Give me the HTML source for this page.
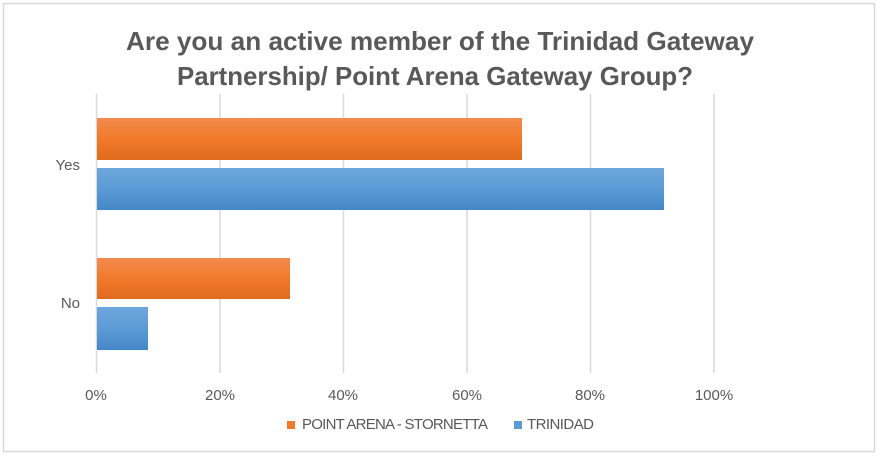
<!DOCTYPE html>
<html><head><style>
body{margin:0;background:#fff;}
svg text{font-family:"Liberation Sans",sans-serif;}
</style></head><body>
<svg width="879" height="457" xmlns="http://www.w3.org/2000/svg">
<defs>
<linearGradient id="o" x1="0" y1="0" x2="0" y2="1"><stop offset="0" stop-color="#f38b4e"/><stop offset="0.5" stop-color="#f17a2a"/><stop offset="1" stop-color="#e06a1e"/></linearGradient>
<linearGradient id="b" x1="0" y1="0" x2="0" y2="1"><stop offset="0" stop-color="#6ea7dc"/><stop offset="0.5" stop-color="#5b9bd5"/><stop offset="1" stop-color="#4487c8"/></linearGradient>
</defs>
<rect x="3.5" y="3.5" width="871" height="448" fill="#fff" stroke="#d9d9d9" stroke-width="1.5"/>
<text x="126" y="50" font-size="26" font-weight="bold" fill="#595959" textLength="628" lengthAdjust="spacingAndGlyphs">Are you an active member of the Trinidad Gateway</text>
<text x="177" y="85" font-size="26" font-weight="bold" fill="#595959" textLength="516" lengthAdjust="spacingAndGlyphs">Partnership/ Point Arena Gateway Group?</text>
<g stroke="#d9d9d9" stroke-width="1.5">
<line x1="96.5" y1="94" x2="96.5" y2="373"/>
<line x1="220" y1="94" x2="220" y2="373"/>
<line x1="343.5" y1="94" x2="343.5" y2="373"/>
<line x1="467" y1="94" x2="467" y2="373"/>
<line x1="590.5" y1="94" x2="590.5" y2="373"/>
<line x1="714" y1="94" x2="714" y2="373"/>
</g>
<rect x="97" y="118" width="425" height="42" fill="url(#o)"/>
<rect x="97" y="168" width="567" height="42" fill="url(#b)"/>
<rect x="97" y="258" width="193" height="41" fill="url(#o)"/>
<rect x="97" y="307" width="51" height="43" fill="url(#b)"/>
<g font-size="15" fill="#595959">
<text x="80" y="170" text-anchor="end">Yes</text>
<text x="80" y="308" text-anchor="end">No</text>
<text x="96" y="400" text-anchor="middle">0%</text>
<text x="220" y="400" text-anchor="middle">20%</text>
<text x="343" y="400" text-anchor="middle">40%</text>
<text x="467" y="400" text-anchor="middle">60%</text>
<text x="590" y="400" text-anchor="middle">80%</text>
<text x="714" y="400" text-anchor="middle">100%</text>
</g>
<rect x="287" y="421" width="8" height="8" fill="#f17a2a"/>
<text x="302" y="429" font-size="15" fill="#595959" textLength="186">POINT ARENA - STORNETTA</text>
<rect x="514" y="421" width="8" height="8" fill="#5b9bd5"/>
<text x="527" y="429" font-size="15" fill="#595959" textLength="67">TRINIDAD</text>
</svg>
</body></html>
